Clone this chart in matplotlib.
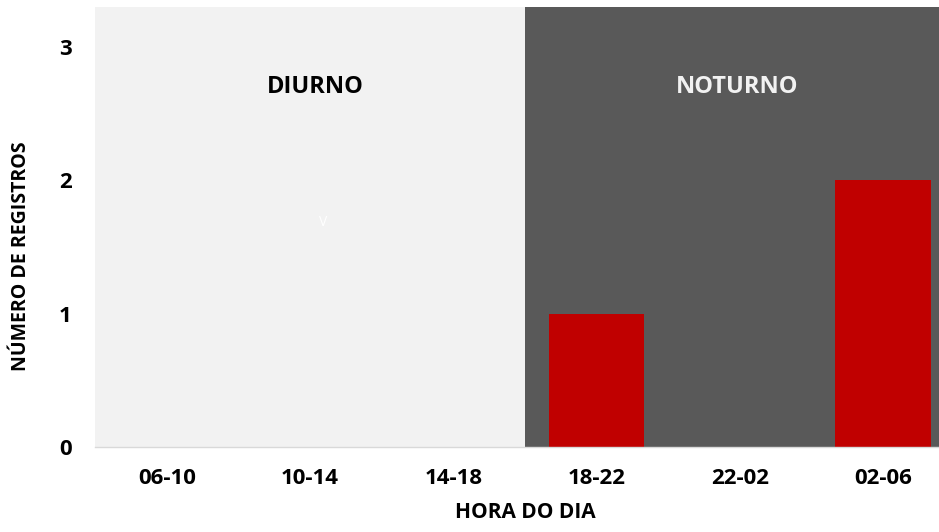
import matplotlib
matplotlib.use("Agg")
import matplotlib.pyplot as plt

categories = ["06-10", "10-14", "14-18", "18-22", "22-02", "02-06"]
counts = [0, 0, 0, 1, 0, 2]
y_ticks = [0, 1, 2, 3]
period_labels = ["DIURNO", "NOTURNO"]

plt.rcParams["font.family"] = ["Open Sans", "DejaVu Sans"]
plt.rcParams["font.weight"] = "bold"

fig = plt.figure(figsize=(9.39, 5.32), dpi=100)
ax = fig.add_axes([0.1013, 0.1598, 0.9153, 0.8271])

x = list(range(len(categories)))
ax.axvspan(-0.5, 2.5, color="#f2f2f2", zorder=0, lw=0)
ax.axvspan(2.5, 5.5, color="#595959", zorder=0, lw=0)

ax.bar(x, counts, width=0.667, color="#c00000", zorder=2)

ax.set_xlim(-0.5, 5.5)
ax.set_ylim(0, 3.3)
ax.set_xticks(x)
ax.set_xticklabels(categories, fontsize=16, fontweight="bold")
ax.set_yticks(y_ticks)
ax.set_yticklabels([str(v) for v in y_ticks], fontsize=16, fontweight="bold")
ax.tick_params(length=0)
ax.tick_params(axis="x", pad=15)
ax.tick_params(axis="y", pad=17)

for side in ["top", "right", "left"]:
    ax.spines[side].set_visible(False)
ax.spines["bottom"].set_color("#d9d9d9")
ax.spines["bottom"].set_linewidth(1.0)
ax.spines["bottom"].set_zorder(3)

ax.text(1.035, 2.70, period_labels[0], ha="center", va="center",
        fontsize=17, fontweight="bold", color="black")
ax.text(3.985, 2.70, period_labels[1], ha="center", va="center",
        fontsize=17, fontweight="bold", color="#f2f2f2")
ax.text(1.09, 1.68, "V", ha="center", va="center", fontsize=10,
        fontweight="normal", color="white")

fig.text(0.0225, 0.518, "NÚMERO DE REGISTROS", rotation=90, ha="center",
         va="center", fontsize=14, fontweight="bold")
fig.text(0.5597, 0.036, "HORA DO DIA", ha="center", va="center",
         fontsize=15, fontweight="bold")

fig.savefig("out.png", dpi=100)
